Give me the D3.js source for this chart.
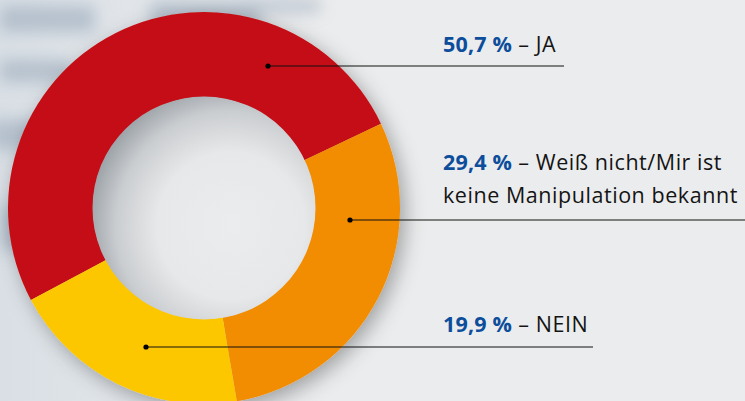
<!DOCTYPE html>
<html>
<meta charset="utf-8">
<head>
  <title>Manipulation donut</title>
</head>
<style>
body { margin: 0; background: #ebeced; }
svg { display: block; }
.lbl { font-family: "Open Sans", sans-serif; font-size: 21.5px; letter-spacing: 0.55px; fill: #141414; }
.lbl .pct { font-weight: 700; fill: #0d4e9c; letter-spacing: 0.2px; }
.leader { stroke: #111; stroke-width: 1.2px; fill: none; }
</style>
<body>
<script src="https://cdnjs.cloudflare.com/ajax/libs/d3/7.8.5/d3.min.js"></script>
<script>

// values in percent, clockwise from the red slice
var answers = ["JA", "Weiß nicht/Mir ist keine Manipulation bekannt", "NEIN"];
var shares = [50.7, 29.4, 19.9];
var shareLabels = ["50,7 %", "29,4 %", "19,9 %"];
var colours = ["#c40d12", "#f28c00", "#fdc700"];
// label text lines after the percentage
var labelLines = [["– JA"], ["– Weiß nicht/Mir ist", "keine Manipulation bekannt"], ["– NEIN"]];

var width = 745,
    height = 401,
    cx = 204, cy = 208,
    outerR = 196, innerR = 111;

var svg = d3.select("body").append("svg")
    .attr("width", width)
    .attr("height", height);

var defs = svg.append("defs");

// blurry backdrop on the left
var blur = defs.append("filter").attr("id", "bgblur")
    .attr("x", "-50%").attr("y", "-50%").attr("width", "200%").attr("height", "200%");
blur.append("feGaussianBlur").attr("stdDeviation", 8);

var fade = defs.append("linearGradient").attr("id", "fade").attr("x1", 0).attr("x2", 1);
fade.append("stop").attr("offset", 0).attr("stop-color", "#d9dfe5");
fade.append("stop").attr("offset", 0.6).attr("stop-color", "#e5e8eb");
fade.append("stop").attr("offset", 1).attr("stop-color", "#ebeced");

svg.append("rect").attr("width", width).attr("height", height).attr("fill", "#ebeced");
svg.append("rect").attr("width", 330).attr("height", height).attr("fill", "url(#fade)");

var backdrop = svg.append("g").attr("filter", "url(#bgblur)").attr("opacity", 0.75);
[[0, 6, 95, 26], [150, 2, 110, 28], [0, 60, 70, 22], [0, 205, 40, 45], [-10, 120, 50, 30], [240, 0, 80, 12]]
  .forEach(function(r) {
    backdrop.append("rect").attr("x", r[0]).attr("y", r[1]).attr("width", r[2]).attr("height", r[3])
        .attr("fill", "#a7b5c4");
  });

var shadow = defs.append("filter").attr("id", "shadow")
    .attr("x", "-20%").attr("y", "-20%").attr("width", "140%").attr("height", "140%");
shadow.append("feDropShadow").attr("dx", 5).attr("dy", 6).attr("stdDeviation", 10)
    .attr("flood-color", "#000").attr("flood-opacity", 0.32);

var hole = defs.append("radialGradient").attr("id", "hole")
    .attr("cx", 0.62).attr("cy", 0.58).attr("r", 0.66);
hole.append("stop").attr("offset", 0).attr("stop-color", "#ebeced");
hole.append("stop").attr("offset", 0.5).attr("stop-color", "#e7e8e9");
hole.append("stop").attr("offset", 0.78).attr("stop-color", "#cacdd0");
hole.append("stop").attr("offset", 1).attr("stop-color", "#979da3");

var g = svg.append("g").attr("transform", "translate(" + cx + "," + cy + ")");

var pie = d3.pie()
    .sort(null)
    .startAngle(-118 * Math.PI / 180)
    .endAngle(242 * Math.PI / 180);

var arcs = pie(shares);

var arc = d3.arc().innerRadius(innerR).outerRadius(outerR);

g.append("g").attr("filter", "url(#shadow)")
  .selectAll("path")
  .data(arcs)
  .enter().append("path")
    .attr("d", arc)
    .attr("fill", function(d, i) { return colours[i]; });

g.append("circle").attr("r", innerR + 0.5).attr("fill", "url(#hole)");

// leader dots and lines
var dotAt = [[64, -142], [146, 12], [-58, 139]];
var lineEnd = [564, 745, 593];
var labelY = [52, 170, 332];

dotAt.forEach(function(p, i) {
  svg.append("line").attr("class", "leader")
      .attr("x1", cx + p[0]).attr("y1", cy + p[1])
      .attr("x2", lineEnd[i]).attr("y2", cy + p[1]);
  svg.append("circle").attr("cx", cx + p[0]).attr("cy", cy + p[1]).attr("r", 2.6).attr("fill", "#000");
});

var labelX = 443;
labelLines.forEach(function(lines, i) {
  var t = svg.append("text").attr("class", "lbl").attr("x", labelX).attr("y", labelY[i]);
  t.append("tspan").attr("class", "pct").text(shareLabels[i]);
  t.append("tspan").text(" " + lines[0]);
  if (lines[1]) {
    svg.append("text").attr("class", "lbl").attr("x", labelX).attr("y", labelY[i] + 33).text(lines[1]);
  }
});

</script>
</body>
</html>
